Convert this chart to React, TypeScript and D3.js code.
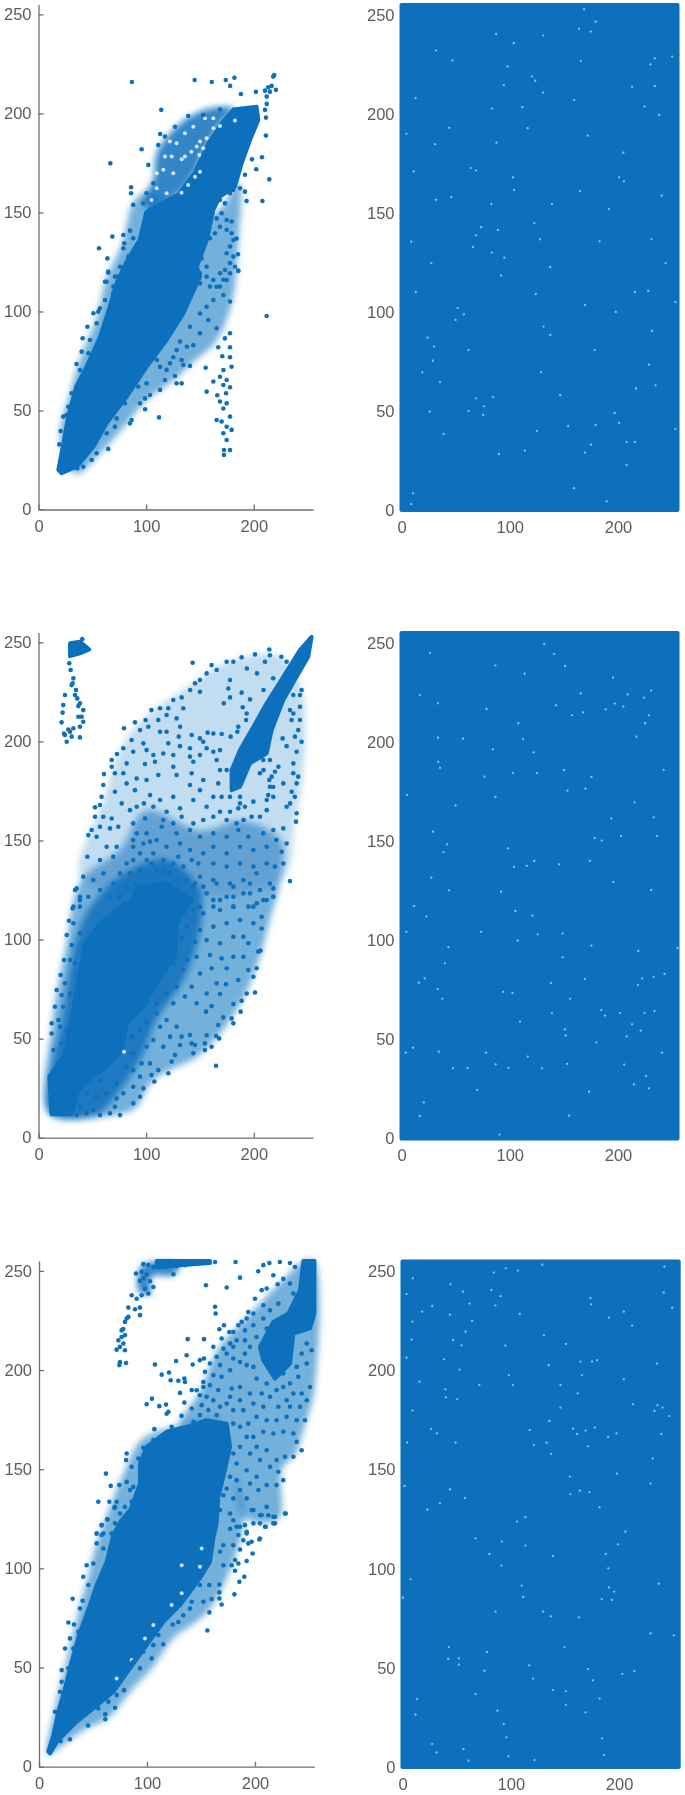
import React, { useEffect, useRef } from 'react';
import * as d3 from 'd3';

type Pt = number[];

const xTicks = [0, 100, 200];
const yTicks = [0, 50, 100, 150, 200, 250];
const colorMax = 255;

// ---- row 1, left: the solid mass as an outline, zones by how packed the dots are, then single dots
const mass1: Pt[] = [[18.4,20],[23,33],[27.6,47],[35,62],[44.6,72],[57,87],[66,102],[72.4,114],[79,122],[84.7,128],[94,136],[100,150],[105,152],[130,159],[145,170],[158,185],[170,195],[181,202],[202.6,203.4],[204.2,196.7],[196.5,186.6],[188.7,174.8],[182.5,163],[168.6,158],[162.4,151.3],[156.3,136],[147,122.6],[150,117.6],[134.5,99],[119,85.6],[100.4,72],[81.9,57],[63.3,43.5],[51,31.7],[35.4,21.6],[21.5,18.3]];
const crescent1: Pt[] = [[97.4,154],[100,160],[106.7,166.4],[109.8,179.9],[125.2,191.7],[140.7,198.4],[159.3,202.6],[181,202.6],[170,195],[158,185],[145,170],[130,159],[105,152]];
const halo1: Pt[] = [[20,35],[30,60],[40,78],[55,98],[62,115],[78,135],[88,155],[100,160],[140,150],[165,150],[186,165],[185,130],[180,105],[165,85],[145,75],[125,65],[100,55],[80,42],[60,30],[35,18]];
const gaps1: Pt[] = [[147,183.3],[142,180.7],[150,185.8],[153,182.4],[136,178.2],[133,176.9],[149.4,179],[156.2,187.5],[182.5,196.4],[168.6,193.7],[162.5,192.5],[150,170.6],[145.4,168],[139,163.9],[132.9,160],[125.2,169.8],[123.7,178.2],[116,171.5],[117.5,178.2],[109.8,162.2],[105,156.3],[119,159.7],[128.3,185],[122,185.8],[136,190],[143.8,193.3],[154.7,197.5],[162.4,197.5],[109.8,169.8]];
const dots1: Pt[] = [[86.8,215.9],[145,216.9],[161,215.9],[174,216.9],[182,218],[178,213.9],[188,209.8],[202,210.9],[219,219.4],[218,218.6],[212,208.5],[215,211],[216.6,213.9],[220.6,211.9],[210.4,211.5],[213.4,213.2],[212,204.8],[210.4,201.8],[211.3,197.9],[211.3,188.8],[114,201.8],[113,189.6],[95.8,181.9],[66.7,174.8],[102,174],[198.3,176.8],[207.6,177.9],[202.3,171.8],[214.4,166.7],[193.3,155.8],[208,155.8],[86,162.7],[86,159.7],[88,153.8],[68.6,137.8],[56.2,131.9],[64,126.8],[78.8,138.6],[85,140.8],[79.7,134.4],[88,137],[184,136.8],[185.3,128.9],[185.6,120.6],[61.8,115],[64.8,119.6],[75.7,122.6],[78.8,131.9],[83.4,127.7],[74,117.6],[69.5,112.6],[86.5,122.6],
[168.6,156.3],[173.2,154.6],[177.9,159.7],[181,161.4],[170.1,149.6],[165.5,147],[174.8,146.2],[179.4,145.4],[168.6,142.8],[163.9,139.5],[159.3,137],[179.4,139.5],[174.8,141.2],[181,136.1],[177.9,132.8],[174.8,129.4],[181,127.7],[177.9,124.4],[173.2,120.9],[182.5,122.6],[168.6,119.3],[174.8,115.9],[162.4,115.9],[156.2,122.6],[151.5,126.8],[150,119.3],[156.2,117.6],[168.6,112.6],[159.3,112.6],[150,114.2],[191.8,160.5],[187.2,162.2],[191.8,169],[185.6,171.5],
[185.6,120.4],[177.9,119.3],[171.7,116],[165.5,112.5],[171.7,108.3],[162.4,105.8],[177.9,105],[156.2,102.4],[150,99],[157.7,95.7],[165.5,91.5],[150,89],[140.7,92.3],[177.9,89],[173.2,86.4],[131.4,84.8],[137.9,82.2],[167,81.9],[177.9,81.9],[143.8,83],[128.3,80.5],[125.2,76.9],[133,75.5],[140.7,72.5],[134.5,73],[170.7,77.4],[177.9,76.9],[179.4,72.1],[171.8,70.4],[155.3,71.6],[168.6,67],[162.4,64.6],[174.8,65.4],[171.7,62.9],[177.9,61.7],[156.2,59.5],[166.1,57.7],[174.2,58.7],[168.6,54.5],[174.8,53.6],[171.7,51],[177.9,46.9],[165.5,45.2],[170.1,44.4],[174.8,41.8],[179.4,40.2],[171.7,38.5],[174.8,35.1],[177.9,30],[172.3,27.5],[172.3,30],[211.9,97.7],[112,46.5],[128.3,63.7],[133,63.7],[126.8,67.4],[117.5,65.4],[112.9,60.4],[119,70.5],[112.9,72],[110,75.5],[122.2,73.8],[103.6,57.8],[99,56.1],[94.3,53.6],[99,50.6],[86.5,45.2],[85,43.5],[80.3,53.6],[72.6,46],[64.8,30.6],[54,28.4],[49.4,25],[41.6,21.6],[36,20.8],[63.3,38.5],[71,41.8],[92.7,62],[100.4,63.7],
[20.6,39.6],[19.3,32.9],[23,46.9],[26,47.7],[30.8,58.7],[35.3,73.5],[41,86.5],[45.4,92.3],[51,99.1],[55.6,99.9],[61.8,105.8],[63.3,115],[64.8,120.1],[71,117.6],[46.3,78.9],[40.1,79.7],[38.5,70.4],[27.7,51.9],[54,94],[47.8,85.6],[57,101.6],[69.5,109.2],[67.9,104.1],
[97.4,154.6],[100.4,159.7],[106.7,164.7],[111.3,184],[117.5,188.3],[126.8,193.3],[139.1,198.7],[153,199.2],[168.6,202]];

// ---- row 2, left
const mass2: Pt[] = [[12.2,11.8],[10,30.8],[24.6,42.6],[30.8,59.4],[37,79.6],[43.2,98],[57.1,108.2],[80.3,118.3],[83.4,116.6],[92.7,126.7],[119,128.3],[137.6,121.6],[142.3,119.9],[128.3,108.2],[126.8,91.3],[112.9,81.2],[97.4,66.1],[81.9,57.7],[77.2,44.2],[63.3,35.8],[50.9,30.8],[35.4,22.4],[30.8,11.8]];
const cap2: Pt[] = [[29.3,249.5],[38.5,250.3],[47.2,246.4],[38.5,244.4],[29.3,243]];
const strip2: Pt[] = [[253.7,252.8],[250.6,242.7],[239.8,232.6],[227.4,220.9],[216.6,205.7],[212,194],[196.4,188.9],[187.2,177.1],[179.4,175.4],[179.4,185.5],[187.2,195.6],[199.6,207.4],[211.9,219.2],[227.4,232.6],[242.9,246.1]];
const core2: Pt[] = [[10,12],[12,35],[22,60],[35,100],[50,118],[85,135],[120,140],[150,125],[150,105],[135,80],[110,60],[95,40],[70,20],[55,12]];
const lower2: Pt[] = [[10,12],[12,55],[25,95],[40,130],[75,145],[100,165],[150,155],[190,160],[225,150],[225,130],[215,110],[205,90],[190,70],[165,50],[145,40],[125,35],[105,28],[90,15],[75,12]];
const upper2: Pt[] = [[40,130],[60,170],[80,200],[105,215],[140,228],[175,240],[225,243],[245,225],[245,180],[238,160],[225,130]];
const gaps2: Pt[] = [[79.4,43.4]];
const dots2: Pt[] = [[40.7,251.6],[28.6,239.4],[29.9,236],[32.4,231.8],[30.8,228.4],[34.8,225.9],[36,221.7],[38.5,219.2],[41.6,215.8],[37,212.4],[41.6,209.9],[24.6,223.4],[23,218.3],[22.4,214.5],[21.5,209.6],[32.4,206.6],[29.3,204.9],[24.6,203.2],[26.2,199.8],[38.5,202],[30.8,202.4],[27.7,206],[33.9,223.4],[31.7,229.3],[37,217.8],[40.1,212.4],[38.5,207.4],[23.7,204],
[143.2,239.7],[160.8,238.5],[165.5,236],[174.8,240.2],[181,240.2],[188.7,242.4],[201.1,243.9],[214.4,246.4],[215,243.5],[225.6,242.7],[230.5,240.2],[193.6,236.8],[203,234.3],[210.4,240.2],[218,231.8],[209,225.9],[188.7,224.6],[196.5,221.2],[177.9,231],[176.3,226.7],[177.9,222.2],[172.1,219.2],[189.7,217.2],[193.4,214.1],[192.8,210.8],[185.6,207.4],[184.7,204.9],[178.5,202.4],[170.2,203.7],[162.4,204],[157.1,204.4],
[156.2,234.3],[150,231],[145.4,229.3],[140.9,225.9],[150,225],[133,222.2],[125.2,220.9],[134.5,216.7],[120.6,216.7],[112.9,216.7],[104.9,215.8],[119,213.3],[128.3,211.6],[111.3,210.8],[89.6,209.6],[99.5,210.8],[79.4,206.6],[102,207.4],[94.3,205.7],[112.9,204.9],[119,204.9],[131.5,207.4],[130.3,202.4],[120.6,199],[131.4,197.6],[86.5,200.7],[97.4,199],[78.8,196.5],[88,194.8],[72.9,193.6],[68,190.6],[68,187.2],[81.9,188.9],[100.4,195.6],[106.7,193.1],[115.9,193.9],[98.9,188.6],[108.2,189.7],[125.2,193.1],[142.3,203.2],[150,201.5],[140.7,196.5],[140.7,192.3],[153,199.8],[156.2,196.5],[162.4,194.8],[168.6,195.6],[143.8,189.7],[150,193.1],[165.5,190.6],[168.6,185.5],[174.8,185.5],[125.2,187.2],[128.3,183],[111.3,183],[71,183.9],[78.8,183.9],[60.8,183.5],[60.2,178],[58.6,172],[52.5,166.7],[57.1,167.9],[71,174.6],[81.9,178.8],[91.2,181.3],[100.4,180.5],[89.6,175.4],[142.3,183.9],[153,180.5],[140.7,178],[167,178.8],[162.4,172],[170.1,172],[177.9,172],[150,175.4],[143.8,170.4],[103.6,172.9],[112.9,170.4],[97.9,168.7],[125.2,172],[77.3,168.7],[85,165.3],[91.2,167],[106.7,167],[119,164.5],[131.4,166.2],[156.2,167],[168.6,164.5],[177.9,164.5],[187.2,168.7],[199.6,169.6],[215,177.1],[216.6,182.2],[209,185.5],[222.9,187.2],[227.4,178.8],[236.7,183.9],[239.8,178.8],[235.2,174.6],[238.1,172],[233.7,168.7],[218.1,172],[212,170.4],[230.5,167],[239.8,163.7],[212,165.3],[205.7,162],[198,162],[190.5,160.3],[184,158.6],[174.8,160.3],[162.4,162],[153,160.3],[143.8,158.6],[133,162],[125.2,158.6],[115.9,160.3],[99,161.1],[88,158.6],[68,161.1],[60.2,162],[52.5,162],[49.4,155.3],[46.3,152.7],[57.1,156.9],[66.4,156.1],[74.1,156.9],[100.4,153.6],[114.4,156.9],[128.3,153.6],[140.7,155.3],[150,151.9],[162.4,153.6],[174.8,151.9],[185.6,155.3],[194.9,151.9],[208.8,153.6],[218.1,155.3],[227.4,156.1],[239.2,159.5],[230.5,148.5],[220.9,150.2],[212,146.8],[199.6,145.2],[187.2,146.8],[174.8,143.5],[162.4,146.8],[153,143.5],[140.7,145.2],[131.4,148.5],[119,146.8],[103.6,149.4],[88,150.2],[72.6,146.8],[63.3,146.8],[54,151.9],[45.4,141.8],[57.1,140.1],[69.5,141.8],[81.9,138.4],[148.5,138.4],[162.4,138.4],[174.8,136.8],[187.2,138.4],[199.6,136.8],[212,138.4],[219.6,136.8],[227.4,138.4],[225.9,144.3],[233.6,129.5],[35.4,125.8],[41.6,131.7],[38.5,121.6],[50.9,130],[60.3,133.4],[69.5,128.3],[75.7,133.4],[46.3,121.6],[57.1,125],[66.4,121.6],[75.7,121.6],[150,131.7],[162.4,130],[177.9,128.3],[190.3,130],[202.6,133.4],[215,128.3],[218.1,121.6],[181,121.6],[196.5,123.3],[208.8,119.9],[156.2,123.3],[168.6,119.9],[143.8,126.7],[32.4,116.6],[38.5,116.6],[150,116.6],[162.4,116.6],[181,116.6],[199.6,116.6],
[88,146.8],[94.3,143.5],[100.4,140.1],[106.7,143.5],[115.9,140.1],[125.2,138.4],[134.5,136.8],[88,140.1],[85,133.4],[94.3,135],[109.8,135],[122.1,133.4],[137.6,130],[128.3,130],[91.2,153.6],[109.8,150.2],[97.4,148.5],[105.1,138.4],[115.9,134.2],[89.6,128.3],[129.9,141.8],[142.3,140.1],[81.9,126.7],
[33.9,125],[38.5,119.9],[31.7,115.7],[28.3,109.5],[26.2,102.3],[30.8,97.2],[23.7,89.7],[20.6,82.1],[16.9,74.5],[21.5,72],[15.3,66.1],[12.2,57.7],[18.5,59.4],[12.2,52.6],[13.8,44.2],[21.5,47.6],[26.2,54.3],[29.3,89.7],[24.6,77.9],[32.4,108.2],[38.5,103.1],[33.9,88],[29.3,72.8],[23,66.1],[20,56],
[145.4,128.3],[153,126.7],[165.5,128.3],[181,126.7],[196.5,128.3],[205.7,125],[218.1,125.8],[218.1,121.6],[212,119.9],[202.8,118.3],[190.3,123.3],[174.8,121.6],[162.4,119.9],[153,113.2],[143.8,114.9],[168.6,114.9],[181,116.6],[195,116.6],[207.3,111.5],[199.6,108.2],[207.3,105.6],[187.2,109.8],[174.8,108.2],[162.4,106.5],[150,104.8],[137.9,106.5],[133,100.6],[145.4,98.9],[156.2,99.7],[168.6,98.1],[181,101.4],[190.3,101.4],[195,98.1],[204.2,93.9],[206.3,94.4],[190.3,91.3],[181,91.3],[170.1,90.5],[159.3,92.2],[146.9,91.3],[137.9,89.7],[125.2,88],[117.5,83.8],[134.5,84.6],[150,82.9],[160.8,85.5],[174.8,85.5],[185.6,79.6],[194.9,84.6],[202.6,85.5],[199.6,81.2],[174.2,77.5],[165.5,77.9],[156.2,72.8],[168.6,72.5],[142.3,76.2],[128.3,76.2],[119,72.8],[109.8,67.8],[125.2,67.8],[136,71.2],[146.9,67.8],[160.8,66.4],[155.6,63.6],[181,67.5],[188.7,69.1],[193.4,72.8],[201.1,73.3],[187.8,63.6],[171.7,60.7],[179.4,60.2],[181,57.7],[167,56.9],[156.2,51.7],[165,51.3],[167.8,50.1],[154.6,47.6],[160.8,45.9],[154.6,44.2],[164.9,36.3],[143.8,42.6],[142.3,47.6],[145.4,46.8],[140.7,51.8],[133,51],[128.3,56],[119,59.4],[109.8,62.7],[100.4,57.7],[112.9,56],[122.2,51],[115.9,45.9],[131.4,46.8],[126.8,41.7],[123.7,38.4],[120.6,32.5],[111.3,34.1],[105,31.6],[107.6,28.3],[97.4,24.9],[94.3,20.7],[88,17.3],[75.7,11.4],[71,15.6],[57.1,11.4],[35.6,11.4],[44.7,12.3],[66.4,12.3],[50.9,14],[38.5,15.6],[94.3,30.8],[88,25.7],[78.8,22.4],[72.6,27.4],[57.1,29.1],[63.3,22.4],[54,20.7],[44.7,22.4],[100.4,45.9],[103.6,37.5],[88,42.6],[86.5,51],[94.3,54.3],[106.7,49.3],[81.9,35.8],[95.8,37.5],[88,34.1],[72.6,19.8],
[187.2,172],[191.8,167],[185.6,166.2],[215,190.6],[219.7,184.7],[214.4,180.5],[218.1,177],[213.4,172.9],[208.8,190.6],[205.7,183.9],
[244.4,225.9],[236.7,223.4],[242.9,217.5],[236.7,214.1],[242.9,210.8],[235.1,210.8],[241.3,205.7],[244.4,199.8],[238.2,202.4],[230.5,197.6],[226.8,201.5],[236.7,188.9],[241.3,182.2],[233.6,215.8],[242.9,223.4],[239.8,194.8]];

// ---- row 3, left
const mass3: Pt[] = [[8.6,7.6],[13.3,16],[17.9,27.7],[24.1,39.5],[30.2,52.9],[38,68],[47.2,81.5],[53.4,91.6],[62.7,103.3],[68.8,116.8],[76,124],[85,130],[93.5,142.8],[93.5,152.9],[99.7,161.3],[118.2,168.9],[136.7,171.4],[155.2,174.7],[173.8,173],[176.9,161.3],[170.7,146.2],[166,136],[164.5,122.7],[161.4,115],[158.3,103.3],[149,95],[130.6,81.5],[115.1,73],[99.7,61.3],[84.3,49.6],[68.8,37.8],[50.3,29.4],[34.9,22.7],[16.4,12.6],[10.2,6.7]];
const band3: Pt[] = [[108.9,255],[158.3,255],[158.3,254],[108.9,252]];
const corner3: Pt[] = [[244.8,255],[255,255],[255,228.5],[250.9,221],[235.5,218.4],[232.4,203.3],[218.5,195.7],[207.7,205],[204.6,211.7],[217,224.3],[230.9,228.5],[241.7,240.3]];
const rim3: Pt[] = [[8,6],[15,30],[24,50],[35,75],[45,95],[53,112],[65,130],[80,150],[95,165],[130,172],[175,175],[180,150],[190,125],[165,85],[150,75],[125,65],[105,50],[85,38],[65,25],[40,18],[20,10]];
const ridge3: Pt[] = [[130,172],[150,190],[165,210],[195,228],[225,245],[245,255],[255,255],[255,190],[245,170],[238,158],[225,150],[222,125],[192,125],[180,150],[175,175]];
const arc3: Pt[] = [[92,240],[96,253],[130,253],[125,248],[104,247],[103,238]];
const gaps3: Pt[] = [[132.1,101.6],[149,100.8],[150.6,110],[132.1,87.4],[122.8,81.5],[105.9,71.4],[98.1,64.7],[85.8,53.8],[71.9,44.5]];
const dots3: Pt[] = [[163,254.5],[182,254.5],[96.6,253.4],[101.2,252.9],[105.9,252],[110.5,252],[118.2,252],[127.5,252.3],[135.2,252.9],[124.4,248.3],[89.8,248.7],[95,249.5],[99.7,248.3],[96.6,246.4],[102.8,244.8],[93.5,245],[98,241],[105.9,241.9],[101.2,238.6],[95,237.7],[85.8,237.7],[90.4,236],[82.7,231.5],[88.9,230.7],[93.5,231.5],[93.5,227.7],[82.7,226.8],[79.6,224.3],[76.5,220],[79.6,217.6],[73.5,215],[78.2,213.4],[71.9,210.3],[79.6,210],[75,211.7],[75,204],[74.4,202.5],[80.6,203.6],[81.2,226],[78,220.7],[76.5,216.7],
[107.4,202.8],[113.6,197.7],[120.4,198.8],[121.9,194.9],[129,194.6],[134.6,195.7],[135.2,194],[126.9,204.6],[136.7,207.5],[142.3,202.8],[149,205],[152.8,205.8],[137.7,215.6],[152.8,215.6],[163,231.9],[163.6,228.5],[167,220.6],[171.3,222.6],[176.2,219.2],[154.6,242.8],[173.8,241.6],[186.1,246.6],[203,249.8],[207.7,252.9],[213.3,254],[217,247.8],[221,243.3],[223,254.5],[130.6,188.5],[134.6,183.6],[141.4,180.6],[146,189.8],[141.4,189.9],[152.2,191.5],[99.7,182.8],[104.6,185.6],[111.4,181.8],[117.6,182.6],[118.2,178],[132,176.9],[119.8,179],[106.8,170.2],[122.8,171.4],
[232.4,254],[237,252],[226.2,246],[232.4,243.6],[210.8,241.1],[206.2,240.3],[200,236],[207.7,232.7],[193.8,229.3],[187.7,224.3],[184.6,222.6],[192.3,226],[198.5,228.5],[213.9,230.2],[221.6,233.5],[235.5,238.6],[198.5,222.6],[207.7,226],[210.8,220.9],[190.7,220],[179.9,219.2],[183,215],[190.7,215],[176.9,213.4],[169.1,215.9],[161.4,211.7],[170.7,210.8],[164.5,206.7],[173.8,208.3],[179.9,211.7],[195.4,211.7],[201.5,216.7],[190.7,208.3],[179.9,205.8],[186.1,204.1],[198.5,201.6],[192.3,202.5],[158.3,203.3],[167.6,202.5],[176.9,199.9],[153.7,199.1],[161.4,197.4],[169.1,196.6],[152.2,194],[158.3,192.4],[166,189.9],[149,187.3],[155.2,186.5],[161.4,184.8],[167.6,181.5],[150.6,182.3],[156.8,179.8],[149,177.3],[143,173.9],[164.5,177.3],[173.8,183.1],[179.9,179.8],[186.1,184.8],[178.4,190.7],[186.1,191.5],[195.4,188.2],[176.9,186.5],[201.5,195.7],[210.8,193.2],[206.2,188.2],[213.9,186.5],[198.5,183.1],[207.7,181.5],[189.2,179.8],[220,189.9],[226.2,191.5],[232.4,193.2],[240.1,196.6],[247.9,203.3],[252.5,210],[247.9,213.4],[243.2,208.3],[238.6,201.6],[226.2,198.3],[235.5,188.2],[243.2,188.2],[247.9,184.8],[229.3,184.8],[221.6,181.5],[232.4,181.5],[241.7,181.5],[246.3,174.7],[238.6,174.7],[229.3,176.4],[220,174.7],[210.8,174.7],[201.5,176.4],[193.8,173],[186.1,171.4],[179.9,173],[235.5,168],[226.2,168.9],[217,168],[207.7,168.9],[198.5,166.3],[238.6,163.8],[243.2,159.6],[235.5,156.3],[227.8,156.3],[220,154.6],[210.8,159.6],[201.5,161.3],[192.3,166.3],[186.1,161.3],[195.4,157.9],[204.6,154.6],[213.9,151.2],[221.6,148.7],[226.2,144.5],[220,142],[210.8,142],[201.5,146.2],[192.3,149.5],[183,152.9],[179.9,157.9],[176.9,146.2],[183,144.5],[173.8,140.3],[186.1,139.5],[195.4,142.8],[203.1,139.5],[192.3,135.3],[179.9,135.3],[170.7,136.9],[198.5,129.4],[210.8,131],[206.2,126.9],[217,126],[218.5,122.7],[228.4,127.7],[209.3,121],[198.5,122.7],[186.1,121],[176.9,127.7],[179.9,124.3],[192.3,117.6],[204.6,115.1],[167.6,129.4],[251,191.5],
[53.4,117.6],[58,121.8],[63.3,124.8],[69.8,130.5],[58,116.8],[53.4,112.6],[59.6,110],[44.1,101.6],[50.3,102.5],[41,95.8],[45.7,91.6],[31.2,84.7],[40.4,83.7],[38,79.8],[27.2,72.7],[32.4,71.7],[36.4,68],[28.7,64.7],[24.1,59.6],[31.8,59.6],[21,48.7],[21,42.8],[27.2,49.6],[19.4,37.8],[14.8,27.7],
[227.8,127.7],[218.5,126],[212.3,126.8],[204.6,126.8],[217,122.7],[209.9,121],[204.6,122.7],[196.9,129.4],[190.7,121.8],[183,121],[176.9,120],[192.3,118.4],[184.6,116.8],[204,114.6],[196.9,113.4],[193.8,112.6],[189.2,114.2],[186.1,109.5],[179.9,111.7],[170.7,111.7],[167.6,108.4],[197.8,107.5],[192.3,103.7],[181.5,104.2],[184.6,102.5],[178.4,101.6],[170.7,101.6],[181.5,98.8],[190.1,95.8],[185.5,93.2],[167,91.9],[157.7,91.6],[180.9,86.9],[167,87.9],[159.9,84.5],[167,84.8],[169.1,81.8],[157.7,77.8],[155.9,68.7],[152.2,83.2],[149,91.6],[139.8,79.8],[141.4,83.2],[133.6,76.4],[129,73],[123.8,71.7],[115.1,61.7],[110.5,66.4],[105.9,61.3],[104.3,54.6],[96.6,58],[93.5,49.6],[87.3,52.9],[78.7,38.6],[70.4,29.7],[64.2,32.8],[71.9,36.1],[61.4,26.4],[61.4,23.9],[54.9,29.4],[45.4,20.8],[28.7,13.8],[20,12.9],[38,24.4],
[62,147.8],[54.9,133.6],[66.4,141.6],[74.4,142],[81.2,143.6],[65.1,133.6],[70.4,131],[71.9,133.6],[79.6,131],[84.3,139.5],[87.3,141.1],[63.3,124.7],[58,121.8],[53.4,117.6],[59.6,117.6],[81.2,157.9],[80.6,154.6],[85.8,151.2],[92,155.4],[96.6,160.8],[105.9,164.7],[70.4,122.7],[67.3,117.6],[79.6,126],[75,127.7],[85.8,133.6]];

// ---- right column: the square is fully covered, so only the pale specks are listed
const specks1: Pt[] = [[179.4,246.6],[168.7,252.9],[174.8,241.6],[164,243],[131,239.6],[103.7,235.7],[87.4,240.4],[32,232],[250,229],[230,225],[234,228],[165.6,226.8],[47,227],[98,224],[120.6,218.9],[123.6,216.8],[94.5,214.6],[131,210.8],[234,214],[213,213.7],[13,208],[159.5,207],[111.7,203.4],[83.7,202.7],[224.5,203.7],[238,199.5],[116.6,192.8],[44,193],[4.6,190],[31,184.7],[87.7,185.5],[172,189],[205,180.5],[11.3,171],[64,172.7],[69,171.4],[103,168],[201,168],[205.5,166],[104,161.6],[165,161],[46,158],[32,156.6],[240.5,158.7],[83,154.5],[139,154.5],[191.7,152],[122.7,144.8],[73.6,142.8],[89,141.4],[69,138.7],[9,135.5],[128,136.7],[183,135.7],[231,136.7],[66,132.7],[83.4,130],[95,127.4],[27.6,124.6],[244,124.6],[137.4,122.6],[92,118.4],[13.2,110],[215.6,110],[228,110.6],[253,105],[124,109],[169.6,103.5],[52,102],[198,100],[57.7,98.8],[50,96],[131.3,92.6],[231.6,90.4],[137.4,88.4],[24,87],[30,82.5],[62,80.8],[178.5,80.8],[29,75.4],[228.5,73.4],[19.3,69.5],[129,69.5],[35.6,64.5],[216.6,61.4],[234.7,63],[146.6,58],[69,56.4],[84.7,57],[76.4,52.4],[26,49.7],[62,50],[75.5,48],[197,49],[201,44],[154,42.4],[179.4,43],[39,38.4],[253,41],[125,40],[208,34.3],[215.6,34.3],[175,33],[114,30],[169.3,29],[90,28.3],[208,22.7],[10.7,8.4],[159.5,11],[189.6,4.4],[9,3]];
const specks2: Pt[] = [[131.9,249.5],[141,244.4],[26.4,245],[86.8,238.6],[151.2,238.4],[113.8,234.5],[195.4,232.5],[16.9,223.6],[165.6,224.5],[209,224],[230.7,226],[224,222.4],[33.7,219.5],[197,219.4],[142.6,218.5],[78.5,216.7],[188.6,216.5],[205,217.9],[157.4,213.5],[167.8,215],[228.5,213.5],[225,209.5],[108,209.5],[33.7,202.2],[56.8,201.7],[112.3,201.5],[217,202.7],[122,194.8],[84.4,196.3],[34,190],[35.6,187],[102.8,184.4],[125,184.3],[150,185.8],[242.3,186],[76.7,182.5],[175.5,182.4],[153.4,175.5],[170,176.5],[86.8,172.3],[5.2,173.3],[50,168],[215.3,169.6],[193.9,161.5],[233,162],[29,154.8],[178.5,151.5],[185,150.3],[202.8,152.6],[236,152.6],[98.5,146.4],[42,148.4],[38.7,144.4],[104,137],[115.7,137.6],[122.7,140],[145.7,138.3],[174,140],[27.6,131.6],[195.7,129.5],[44,125.2],[92,124.5],[230.7,125.4],[11.7,117.3],[23,112],[105.2,114.8],[121,112.4],[4.6,104.3],[73.6,104.3],[148.8,103.4],[125.8,103],[107.3,99.8],[43.3,96.5],[175.5,97.3],[218.7,94.6],[148.8,91.4],[255,96],[40,88.4],[21.5,80.8],[16,78.6],[138,78.4],[169.3,80.5],[222.4,80.8],[233,81.6],[243,83],[218.4,77.4],[33.4,75.4],[37.7,70.5],[93.9,74],[102.5,73.4],[155.8,70.5],[139,63.3],[184.7,64.8],[188,62],[201.8,63.3],[233.7,64.3],[224.5,63.3],[109.5,59],[213,57.6],[151,55],[221,54.4],[208,51.5],[151.6,52],[180,48.5],[10.7,45.8],[4,43.3],[34.4,43.8],[240.8,43.3],[78.2,43.3],[116.6,41.3],[87,37.4],[47.5,35.4],[61,35.6],[98.8,35.7],[129.8,35.4],[153,37.6],[205.8,37.3],[226,31.5],[70,24.6],[214.7,27.3],[228.5,25.3],[173.3,23.6],[20.6,18.2],[16.9,11.4],[154.9,11.5],[90.5,2]];
const specks3: Pt[] = [[95.4,251.6],[106.5,250.4],[129,253.4],[241.8,252.4],[84.3,249.4],[9.5,246.5],[44.3,243.5],[82,240.7],[55.7,239.8],[3.7,238.6],[90.5,237.5],[173.5,236.5],[174.2,233.4],[241.2,239.3],[27.4,232.6],[61.8,233.8],[85.8,232.8],[18.2,229.7],[43.7,228.2],[108.3,228.6],[204.3,229.7],[190.5,226.7],[248.9,231.7],[9.2,224.7],[64.3,225],[212,222.7],[58.2,219.6],[8.3,215.6],[46.8,215.3],[130.5,217.8],[54.5,212.7],[95,212.6],[151,213.4],[3.7,206.5],[38.2,205.7],[179.7,205.2],[175,204.5],[164.3,204.5],[235,203.5],[135,202.7],[52.6,200.5],[98.2,197.6],[165.8,197.6],[15.7,194.4],[71,192.7],[101.8,192.7],[145.8,192.6],[204.3,195.6],[39.7,190.5],[40,186.5],[50.5,185.5],[161.8,188.5],[235.4,182.5],[212.6,183],[240,181.3],[9.2,179.8],[145.8,181.3],[232.6,179.6],[246.2,177],[135.7,174.6],[26.5,170.5],[31.7,168.3],[117.5,170],[157.5,170.7],[161.2,168],[169,169.7],[177.5,171.2],[189.8,166.5],[197.5,168.3],[239,168],[4.3,163.6],[49,163.6],[121.2,162.5],[133,163.6],[171.4,161.8],[137.2,158],[231,155.7],[198,148],[154.5,146.5],[2,141.8],[229,143],[163.7,139.4],[172.6,138.6],[155,137.6],[43.7,140],[57.5,135.6],[34.5,133],[23,129.8],[113.5,126],[182,131],[105.8,123.8],[205.8,118.7],[67.4,115.4],[91.7,113.7],[113.5,111.7],[198.8,112.3],[80.3,107.5],[139,106.5],[187.7,107.5],[190,100.2],[91.4,101.6],[7.4,94.7],[110,91.5],[236.6,92.5],[190.5,90.6],[195.4,88.5],[111.4,85.8],[184,84.6],[193.2,84.3],[0.3,85.4],[86,78.4],[130,78.4],[137,76],[162.8,75.5],[229,67.4],[250.5,66.4],[149.5,60.4],[78,57.9],[42.8,60.4],[42.2,54.5],[52,54.8],[52,51.6],[117,51.3],[171.4,49.4],[214,48.4],[75.7,48.6],[203,47],[120.6,44.6],[175.7,43.7],[139,38.8],[150.8,38.2],[67.4,36.8],[182,34.5],[13.5,34.3],[151,31.4],[87.7,28.4],[169,27.6],[12,26.4],[93.5,21.7],[96,15],[184.3,14.5],[27.4,11.6],[56.3,9],[31.4,7.4],[186,6],[97.8,5.4],[61,3.2],[121.8,3.5]];
const fullSquare: Pt[] = [[0,0],[colorMax,0],[colorMax,colorMax],[0,colorMax]];

const panels = [
  { xr: [38.5, 313], yr: [509.5, 4.5], solids: [mass1], heavy: [crescent1], medium: [halo1], light: [], gaps: gaps1, dots: dots1 },
  { xr: [38.5, 313], yr: [1137.7, 632.4], solids: [mass2, cap2, strip2], heavy: [core2], medium: [lower2], light: [upper2], gaps: gaps2, dots: dots2 },
  { xr: [39, 314.4], yr: [1766.7, 1261], solids: [mass3, band3, corner3], heavy: [arc3], medium: [rim3, ridge3], light: [], gaps: gaps3, dots: dots3 },
  { xr: [401.5, 677.5], yr: [510, 5], solids: [fullSquare], specks: specks1 },
  { xr: [401.5, 677.5], yr: [1138.5, 633], solids: [fullSquare], specks: specks2 },
  { xr: [402.5, 678.7], yr: [1767, 1261.5], solids: [fullSquare], specks: specks3 },
];

const BLUE = '#0b70bc';
const GRAY = '#6e6e6e';

export default function App() {
  const ref = useRef<SVGSVGElement>(null);

  useEffect(() => {
    const svg = d3.select(ref.current);
    svg.selectAll('*').remove();

    const defs = svg.append('defs');
    defs.append('filter').attr('id', 'soft')
      .attr('x', '-5%').attr('y', '-5%').attr('width', '110%').attr('height', '110%')
      .append('feGaussianBlur').attr('stdDeviation', 0.55);
    defs.append('filter').attr('id', 'haze')
      .attr('x', '-15%').attr('y', '-15%').attr('width', '130%').attr('height', '130%')
      .append('feGaussianBlur').attr('stdDeviation', 3);
    const root = svg.append('g').attr('filter', 'url(#soft)');

    panels.forEach((p: any) => {
      const x = d3.scaleLinear().domain([0, colorMax]).range(p.xr);
      const y = d3.scaleLinear().domain([0, colorMax]).range(p.yr);
      const g = root.append('g');

      const xAxis = g.append('g').attr('transform', `translate(0,${p.yr[0]})`)
        .call(d3.axisBottom(x).tickValues(xTicks).tickSizeInner(-5).tickSizeOuter(0).tickPadding(11));
      const yAxis = g.append('g').attr('transform', `translate(${p.xr[0]},0)`)
        .call(d3.axisLeft(y).tickValues(yTicks).tickSizeInner(-5).tickSizeOuter(0).tickPadding(7));
      [xAxis, yAxis].forEach((a) => {
        a.selectAll('path,line').attr('stroke', GRAY).attr('stroke-width', 1.3);
        a.selectAll('text').attr('fill', '#5c5c5c')
          .attr('font-family', '"Liberation Sans", Arial, sans-serif').attr('font-size', 16.5);
      });

      const outline = d3.line<Pt>().x((d) => x(d[0])).y((d) => y(d[1])).curve(d3.curveCatmullRomClosed);
      const straight = d3.line<Pt>().x((d) => x(d[0])).y((d) => y(d[1])).curve(d3.curveLinearClosed);

      // zones where dots overlap too much to list one by one
      const zones = g.append('g').attr('filter', 'url(#haze)');
      [['light', 0.24], ['medium', 0.55], ['heavy', 0.85]].forEach(([key, tone]: any) => {
        zones.append('g').selectAll('path').data(p[key] || []).join('path')
          .attr('d', (d: any) => outline(d)).attr('fill', BLUE).attr('opacity', tone);
      });

      // stroke width equals the marker diameter so outlines end where the dots would
      g.selectAll('path.solid').data(p.solids).join('path').attr('class', 'solid')
        .attr('d', (d: any) => straight(d))
        .attr('fill', BLUE).attr('stroke', BLUE).attr('stroke-width', 4).attr('stroke-linejoin', 'round');

      g.selectAll('circle.gap').data(p.gaps || []).join('circle').attr('class', 'gap')
        .attr('cx', (d: any) => x(d[0])).attr('cy', (d: any) => y(d[1])).attr('r', 2).attr('fill', '#fff').attr('opacity', 0.8);
      g.selectAll('circle.dot').data(p.dots || []).join('circle').attr('class', 'dot')
        .attr('cx', (d: any) => x(d[0])).attr('cy', (d: any) => y(d[1])).attr('r', 2.3).attr('fill', BLUE);
      g.selectAll('circle.speck').data(p.specks || []).join('circle').attr('class', 'speck')
        .attr('cx', (d: any) => x(d[0])).attr('cy', (d: any) => y(d[1])).attr('r', 1.1)
        .attr('fill', '#fff').attr('opacity', 0.62);
    });
  }, []);

  return <svg ref={ref} width={685} height={1795} style={{ position: 'absolute', left: 0, top: 0 }} />;
}
